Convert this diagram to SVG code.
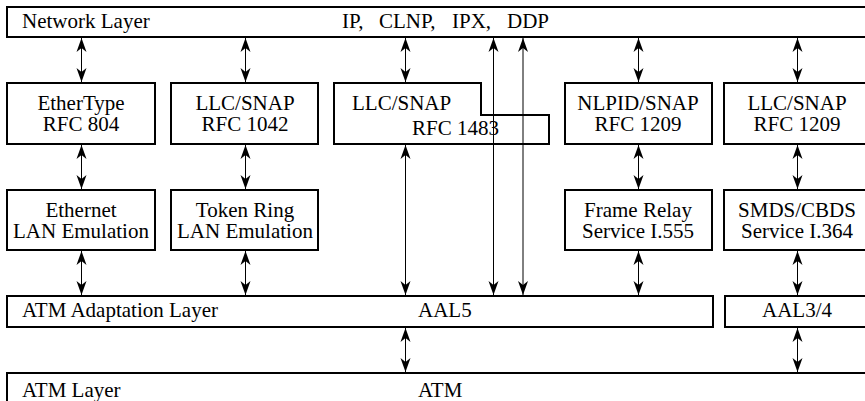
<svg xmlns="http://www.w3.org/2000/svg" width="865" height="401" viewBox="0 0 865 401">
<style>
text{font-family:"Liberation Serif",Tinos,"Times New Roman",Times,serif;font-size:21px;fill:#000}
.c{text-anchor:middle}
.box{fill:#fff;stroke:#000;stroke-width:2}
.ln{stroke:#000;stroke-width:1;fill:none;marker-start:url(#ah);marker-end:url(#ah)}
</style>
<defs>
<marker id="ah" markerUnits="userSpaceOnUse" markerWidth="16" markerHeight="12" viewBox="-15 -6 16 12" refX="0" refY="0" orient="auto-start-reverse">
<path d="M0,0 L-14,-5 L-10,0 L-14,5 Z" fill="#000"/>
</marker>
</defs>
<g id="network-layer">
<rect class="box" x="7" y="7" width="870" height="30"/>
<text x="22" y="28">Network Layer</text>
<text x="342" y="28">IP,<tspan x="379">CLNP,</tspan><tspan x="452">IPX,</tspan><tspan x="507">DDP</tspan></text>
</g>
<g id="ethertype">
<rect class="box" x="7" y="83" width="148" height="61"/>
<text class="c" x="81" y="110">EtherType</text>
<text class="c" x="81" y="131">RFC 804</text>
</g>
<g id="llc-1042">
<rect class="box" x="171" y="83" width="147" height="61"/>
<text class="c" x="245" y="110">LLC/SNAP</text>
<text class="c" x="245" y="131">RFC 1042</text>
</g>
<g id="llc-1483">
<path class="box" d="M334,83 H481 V115 H549 V144 H334 Z"/>
<text x="352" y="110">LLC/SNAP</text>
<text x="412" y="135">RFC 1483</text>
</g>
<g id="nlpid-1209">
<rect class="box" x="565" y="83" width="147" height="61"/>
<text class="c" x="638" y="110">NLPID/SNAP</text>
<text class="c" x="638" y="131">RFC 1209</text>
</g>
<g id="llc-1209">
<rect class="box" x="724" y="83" width="146" height="61"/>
<text class="c" x="797" y="110">LLC/SNAP</text>
<text class="c" x="797" y="131">RFC 1209</text>
</g>
<g id="ethernet-lane">
<rect class="box" x="7" y="190" width="148" height="60"/>
<text class="c" x="81" y="217">Ethernet</text>
<text class="c" x="81" y="238">LAN Emulation</text>
</g>
<g id="tokenring-lane">
<rect class="box" x="171" y="190" width="147" height="60"/>
<text class="c" x="245" y="217">Token Ring</text>
<text class="c" x="245" y="238">LAN Emulation</text>
</g>
<g id="frame-relay">
<rect class="box" x="565" y="190" width="147" height="60"/>
<text class="c" x="638" y="217">Frame Relay</text>
<text class="c" x="638" y="238">Service I.555</text>
</g>
<g id="smds">
<rect class="box" x="724" y="190" width="146" height="60"/>
<text class="c" x="797" y="217">SMDS/CBDS</text>
<text class="c" x="797" y="238">Service I.364</text>
</g>
<g id="aal5">
<rect class="box" x="7" y="296" width="706" height="31"/>
<text x="22" y="317">ATM Adaptation Layer</text>
<text x="418" y="317">AAL5</text>
</g>
<g id="aal34">
<rect class="box" x="725" y="296" width="150" height="31"/>
<text class="c" x="797" y="317">AAL3/4</text>
</g>
<g id="atm-layer">
<rect class="box" x="7" y="373" width="870" height="40"/>
<text x="22" y="397">ATM Layer</text>
<text x="418" y="397">ATM</text>
</g>
<g id="connectors">
<line class="ln" x1="81.5" y1="38" x2="81.5" y2="82"/>
<line class="ln" x1="245.5" y1="38" x2="245.5" y2="82"/>
<line class="ln" x1="405.5" y1="38" x2="405.5" y2="82"/>
<line class="ln" x1="638.5" y1="38" x2="638.5" y2="82"/>
<line class="ln" x1="797.5" y1="38" x2="797.5" y2="82"/>
<line class="ln" x1="81.5" y1="145" x2="81.5" y2="189"/>
<line class="ln" x1="245.5" y1="145" x2="245.5" y2="189"/>
<line class="ln" x1="638.5" y1="145" x2="638.5" y2="189"/>
<line class="ln" x1="797.5" y1="145" x2="797.5" y2="189"/>
<line class="ln" x1="81.5" y1="251" x2="81.5" y2="295"/>
<line class="ln" x1="245.5" y1="251" x2="245.5" y2="295"/>
<line class="ln" x1="638.5" y1="251" x2="638.5" y2="295"/>
<line class="ln" x1="797.5" y1="251" x2="797.5" y2="295"/>
<line class="ln" x1="405.5" y1="145" x2="405.5" y2="295"/>
<line class="ln" x1="493.5" y1="38" x2="493.5" y2="295"/>
<line class="ln" x1="523" y1="38" x2="523" y2="295"/>
<line class="ln" x1="405.5" y1="328" x2="405.5" y2="372"/>
<line class="ln" x1="797.5" y1="328" x2="797.5" y2="372"/>
</g>
</svg>
